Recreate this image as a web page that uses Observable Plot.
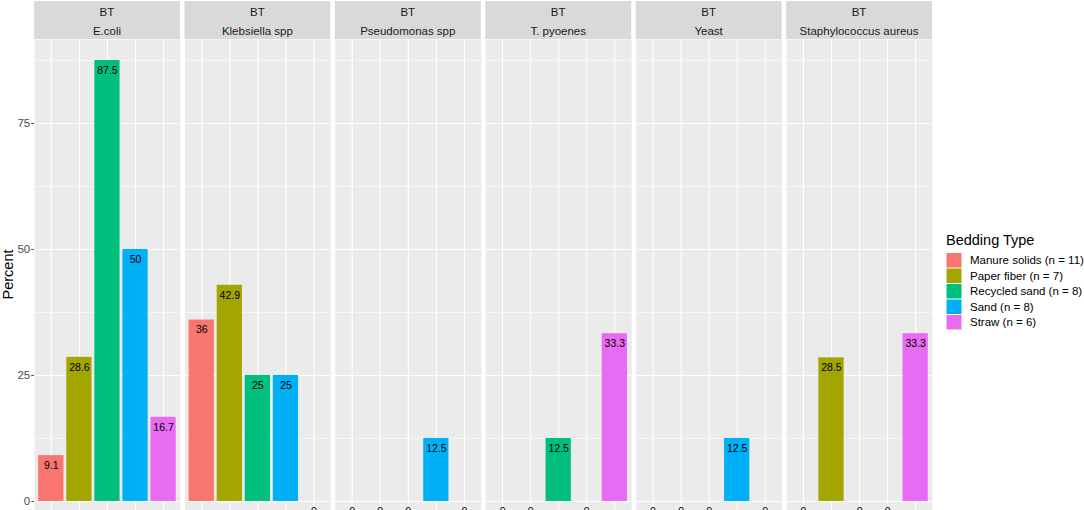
<!DOCTYPE html>
<html><head><meta charset="utf-8">
<script src="https://cdn.jsdelivr.net/npm/d3@7"></script>
<script src="https://cdn.jsdelivr.net/npm/@observablehq/plot@0.6"></script>
<style>body{margin:0;background:#fff;overflow:hidden;} #chart svg{display:block;}</style>
</head><body><div id="chart"></div>
<script>
const organisms = ["E.coli", "Klebsiella spp", "Pseudomonas spp", "T. pyoenes", "Yeast", "Staphylococcus aureus"];
const beddings = ["Manure solids (n = 11)", "Paper fiber (n = 7)", "Recycled sand (n = 8)", "Sand (n = 8)", "Straw (n = 6)"];
const colors = ["#F8766D", "#A3A500", "#00BF7D", "#00B0F6", "#E76BF3"];
const ecoli = [9.1, 28.6, 87.5, 50, 16.7];
const klebsiella = [36, 42.9, 25, 25, 0];
const pseudomonas = [0, 0, 0, 12.5, 0];
const tpyoenes = [0, 0, 12.5, 0, 33.3];
const yeast = [0, 0, 0, 12.5, 0];
const staph = [0, 28.5, 0, 0, 33.3];
const majorTicks = [0, 25, 50, 75];
const minorTicks = [12.5, 37.5, 62.5, 87.5];
const stripLabel = "BT";
const yTitle = "Percent";
const legendTitle = "Bedding Type";

const series = [ecoli, klebsiella, pseudomonas, tpyoenes, yeast, staph];
const data = organisms.flatMap((o, i) => beddings.map((b, j) => ({organism: o, bedding: b, pct: series[i][j]})));

const font = "'Liberation Sans', Arial, sans-serif";
const W = 1084, H = 510;
const plot = Plot.plot({
  width: W, height: H,
  marginTop: 39, marginBottom: 0, marginLeft: 34, marginRight: 152,
  style: {fontFamily: font, background: "#fff", overflow: "hidden"},
  fx: {domain: organisms, paddingInner: 0.03, paddingOuter: 0, round: false, axis: null, label: null},
  x: {domain: beddings, paddingInner: 0.1, paddingOuter: 0.15, align: 0.5, round: false, axis: null},
  y: {domain: [-1.79, 91.67], axis: null},
  color: {domain: beddings, range: colors},
  marks: [
    Plot.frame({fill: "#EBEBEB", stroke: null}),
    Plot.ruleY(minorTicks, {stroke: "#fff", strokeWidth: 0.55}),
    Plot.ruleY(majorTicks, {stroke: "#fff", strokeWidth: 1.1}),
    Plot.gridX({stroke: "#fff", strokeOpacity: 1, strokeWidth: 1.1}),
    Plot.barY(data, {fx: "organism", x: "bedding", y: "pct", fill: "bedding"}),
    Plot.text(data, {fx: "organism", x: "bedding", y: "pct", text: d => String(d.pct), dy: 10, fontSize: 10.5, fill: "#000"}),
    Plot.axisY({ticks: majorTicks, tickSize: 2.75, tickPadding: 1.5, fontSize: 11.5, color: "#4D4D4D", label: null, tickFormat: d => String(d)})
  ]
});
document.getElementById("chart").appendChild(plot);

const svg = d3.select(plot);
const fx = plot.scale("fx");
const bw = fx.bandwidth;
organisms.forEach(o => {
  const x0 = fx.apply(o);
  const g = svg.append("g");
  g.append("rect").attr("x", x0).attr("y", 1).attr("width", bw).attr("height", 38).attr("fill", "#D9D9D9");
  g.append("text").attr("x", x0 + bw / 2).attr("y", 16).attr("text-anchor", "middle")
    .attr("font-family", font).attr("font-size", 11.5).attr("fill", "#1A1A1A").text(stripLabel);
  g.append("text").attr("x", x0 + bw / 2).attr("y", 35).attr("text-anchor", "middle")
    .attr("font-family", font).attr("font-size", 11.5).attr("fill", "#1A1A1A").text(o);
});

svg.append("text").attr("transform", "translate(13,274.5) rotate(-90)").attr("text-anchor", "middle")
  .attr("font-family", font).attr("font-size", 14.5).attr("fill", "#000").text(yTitle);

const color = plot.scale("color");
const lg = svg.append("g").attr("font-family", font).attr("text-anchor", "start");
lg.append("text").attr("x", 946).attr("y", 245).attr("text-anchor", "start").attr("font-size", 14.5).attr("fill", "#000").text(legendTitle);
beddings.forEach((b, i) => {
  const y = 253 + i * 15.5;
  lg.append("rect").attr("x", 946.5).attr("y", y).attr("width", 15).attr("height", 14.5).attr("fill", color.apply(b));
  lg.append("text").attr("x", 970).attr("y", y + 7.25).attr("dy", "0.36em").attr("text-anchor", "start").attr("font-size", 11.5).attr("fill", "#000").text(b);
});
</script>
</body></html>
